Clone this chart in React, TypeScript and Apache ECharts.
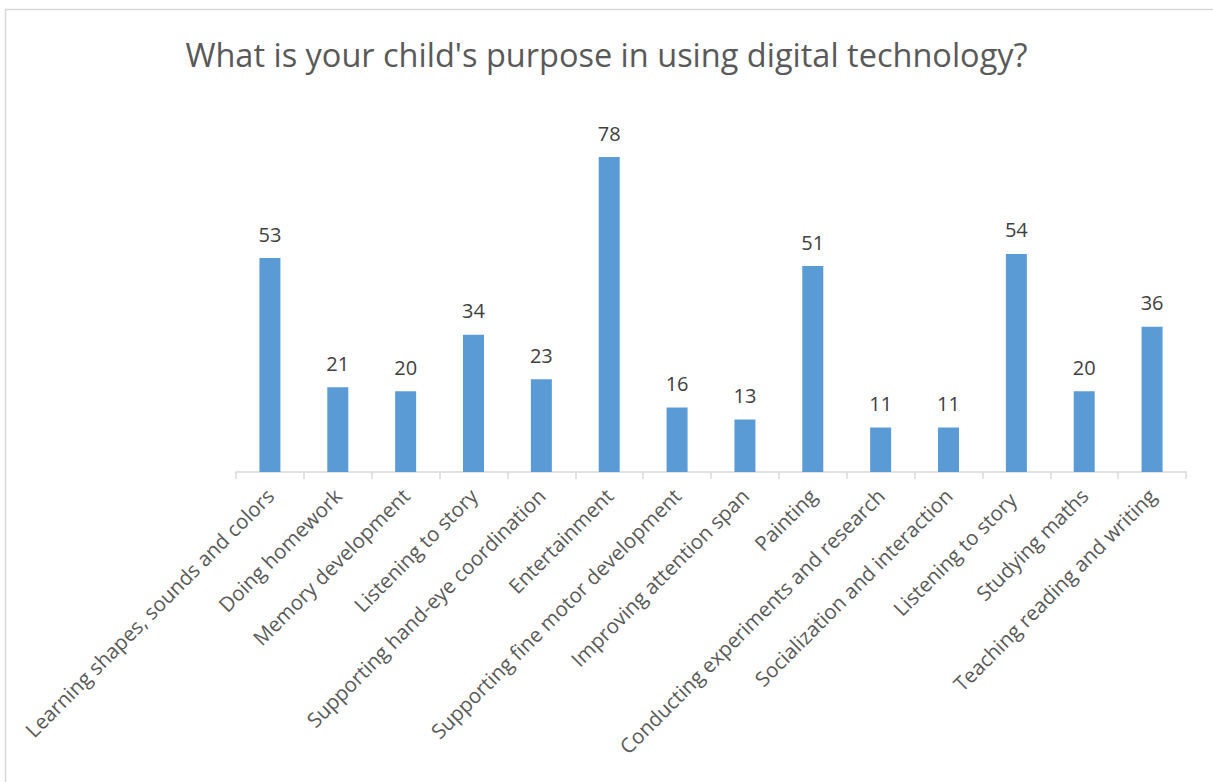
import React, { useEffect, useRef } from "react";
import * as echarts from "echarts";

const categories = [
  "Learning shapes, sounds and colors",
  "Doing homework",
  "Memory development",
  "Listening to story",
  "Supporting hand-eye coordination",
  "Entertainment",
  "Supporting fine motor development",
  "Improving attention span",
  "Painting",
  "Conducting experiments and research",
  "Socialization and interaction",
  "Listening to story ",
  "Studying maths",
  "Teaching reading and writing",
];
const values = [53, 21, 20, 34, 23, 78, 16, 13, 51, 11, 11, 54, 20, 36];
const title = "What is your child's purpose in using digital technology?";

export default function App() {
  const ref = useRef<HTMLDivElement>(null);
  useEffect(() => {
    if (!ref.current) return;
    const chart = echarts.init(ref.current, null, { renderer: "svg" });
    chart.setOption({
      animation: false,
      backgroundColor: "#ffffff",
      title: {
        text: title,
        left: "center",
        top: 33,
        textStyle: {
          fontFamily: "Open Sans",
          fontSize: 32.5,
          fontWeight: "normal",
          color: "#595959",
        },
      },
      graphic: [
        {
          type: "rect",
          shape: { x: 5.5, y: 9.5, width: 1230, height: 800 },
          style: { fill: "none", stroke: "#d9d9d9", lineWidth: 1.5 },
          silent: true,
        },
      ],
      grid: { left: 236, right: 27, top: 149, bottom: 310 },
      xAxis: {
        type: "category",
        data: categories,
        axisLine: { lineStyle: { color: "#d9d9d9", width: 1.5 } },
        axisTick: { show: true, length: 7, lineStyle: { color: "#d9d9d9", width: 1.5 } },
        axisLabel: {
          rotate: 45,
          interval: 0,
          margin: 20,
          fontFamily: "Open Sans",
          fontSize: 20.5,
          color: "#595959",
        },
      },
      yAxis: {
        type: "value",
        min: 0,
        max: 80,
        show: false,
        splitLine: { show: false },
      },
      series: [
        {
          type: "bar",
          data: values,
          barWidth: 21,
          itemStyle: { color: "#5b9bd5" },
          label: {
            show: true,
            position: "top",
            distance: 14,
            fontFamily: "Open Sans",
            fontSize: 20,
            color: "#404040",
          },
        },
      ],
    });
    return () => chart.dispose();
  }, []);
  return (
    <div
      ref={ref}
      style={{ position: "fixed", left: 0, top: 0, width: 1213, height: 782 }}
    />
  );
}
